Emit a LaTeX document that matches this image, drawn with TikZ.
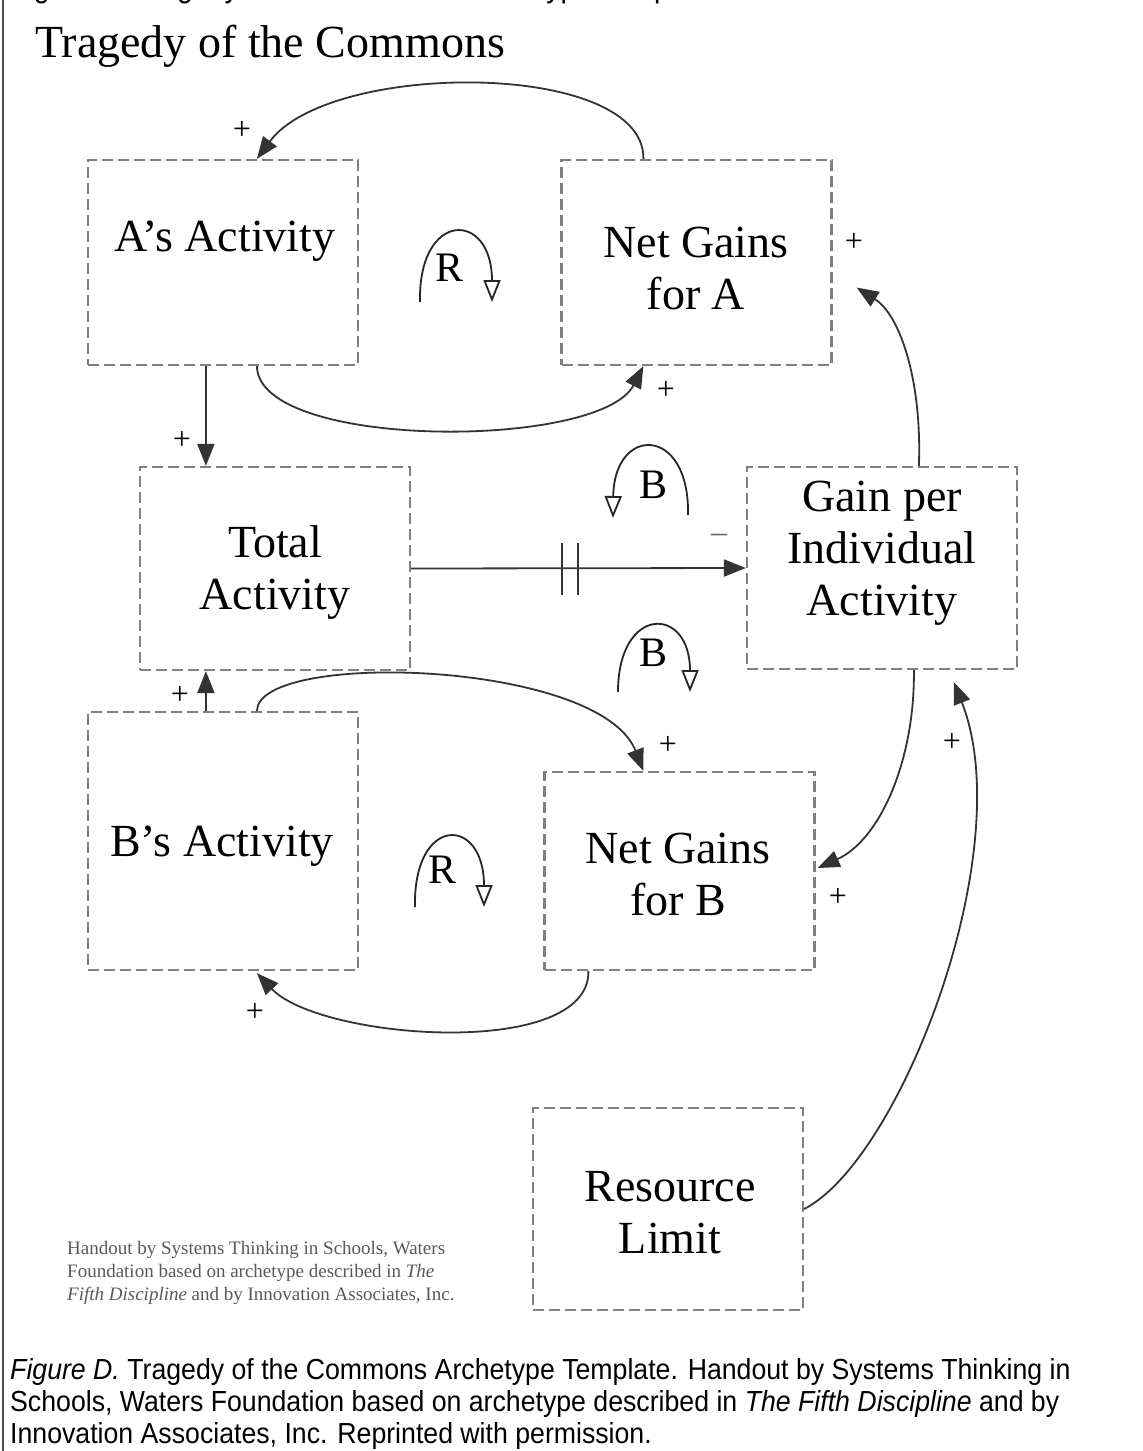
\documentclass[tikz,border=0pt]{standalone}
\usepackage{fontspec}
\setmainfont{Liberation Serif}
\newfontfamily\capfont[FakeStretch=0.92]{Liberation Sans}
\usetikzlibrary{arrows.meta,calc}

\begin{document}
\begin{tikzpicture}[x=1pt,y=-1pt,
  box/.style={draw=black!50, line width=2.2pt, dash pattern=on 11pt off 5pt,
    minimum width=270pt, inner sep=0pt},
  lbl/.style={font=\fontsize{46}{52}\selectfont, align=center, inner sep=0pt},
  link/.style={draw=black!80, line width=1.8pt, -{Triangle[length=22pt,width=17pt]}},
  pol/.style={font=\fontsize{32}{32}\selectfont, inner sep=0pt},
  loopline/.style={draw=black!85, line width=1.8pt,
    -{Triangle[open,length=22pt,width=17pt,fill=white]}},
  looptag/.style={font=\fontsize{42}{42}\selectfont, inner sep=0pt},
]
\useasboundingbox (0,0) rectangle (1143,1451);
\fill[white] (0,0) rectangle (1143,1451);

% page edge and the cut-off heading line above
\draw[line width=1.5pt, black!70] (3,0) -- (3,1451);
\begin{scope}
  \clip (0,0) rectangle (1143,12);
  \node[anchor=base west, inner sep=0pt, font=\capfont\fontsize{31}{31}\selectfont]
    (headcut) at (10,-2.5) {Figure D. Tragedy of the Commons Archetype Template};
\end{scope}

% title
\node[anchor=base west, inner sep=0pt, font=\fontsize{46}{46}\selectfont]
  (title) at (35,57) {Tragedy of the Commons};

% variable boxes
\node[box, minimum height=205pt] (aBox)   at (223,262.5) {};
\node[box, minimum height=205pt] (ngaBox) at (696.5,262.5) {};
\node[box, minimum height=203pt] (totBox) at (275,568.5) {};
\node[box, minimum height=202pt] (gainBox) at (882,568) {};
\node[box, minimum height=258pt] (bBox)   at (223,841) {};
\node[box, minimum height=198pt] (ngbBox) at (679.5,871) {};
\node[box, minimum height=202pt] (resBox) at (668,1209) {};

% box labels
\node[lbl] (aTxt)    at (225,241) {A’s Activity};
\node[lbl] (ngaTxt)  at (696,268) {Net Gains\\for A};
\node[lbl] (totTxt)  at (275,572) {Total\\Activity};
\node[lbl] (gainTxt) at (882,553) {Gain per\\Individual\\Activity};
\node[lbl] (bTxt)    at (222,846) {B’s Activity};
\node[lbl] (ngbTxt)  at (678,874) {Net Gains\\for B};
\node[lbl] (resTxt)  at (670,1213) {Resource\\Limit};

% connector end points on the box edges
\coordinate (aTopIn)   at ($(aBox.north west)+(170,0)$);
\coordinate (aBotOut)  at ($(aBox.south west)+(170,0)$);
\coordinate (aBotDown) at ($(aBox.south west)+(119,0)$);
\coordinate (ngaTop)   at ($(ngaBox.north west)+(83,0)$);
\coordinate (ngaBot)   at ($(ngaBox.south west)+(83,0)$);
\coordinate (ngaRight) at ($(ngaBox.east)+(24,25)$);
\coordinate (totTop)   at ($(totBox.north west)+(67,0)$);
\coordinate (totBot)   at ($(totBox.south west)+(67,0)$);
\coordinate (gainTop)  at ($(gainBox.north west)+(173,0)$);
\coordinate (gainBot)  at ($(gainBox.south west)+(168,0)$);
\coordinate (gainIn)   at ($(gainBox.south west)+(208,12)$);
\coordinate (bTopUp)   at ($(bBox.north west)+(119,0)$);
\coordinate (bTopOut)  at ($(bBox.north west)+(170,0)$);
\coordinate (bBotIn)   at ($(bBox.south west)+(170,2)$);
\coordinate (ngbTop)   at ($(ngbBox.north west)+(100,0)$);
\coordinate (ngbBot)   at ($(ngbBox.south west)+(45,0)$);
\coordinate (ngbRight) at ($(ngbBox.east)+(2,-3)$);

% causal links
\draw[link] (ngaTop) .. controls (645,60) and (330,60) .. (aTopIn);
\draw[link] (aBotOut) .. controls (258,450) and (600,450) .. (ngaBot);
\draw[link] (aBotDown) -- (totTop);
\draw[link] (totBox.east) -- (gainBox.west);
\draw[link] (gainTop) .. controls (922,380) and (900,315) .. (ngaRight);
\draw[link] (gainBot) .. controls (915,760) and (880,840) .. (ngbRight);
\draw[link] (resBox.east) .. controls (900,1160) and (1020,850) .. (gainIn);
\draw[link] (bTopUp) -- (totBot);
\draw[link] (bTopOut) .. controls (258,650) and (600,660) .. (ngbTop);
\draw[link] (ngbBot) .. controls (590,1060) and (320,1040) .. (bBotIn);

% delay mark
\draw[draw=black!80, line width=1.8pt] (562,543) -- (562,595) (578,543) -- (578,595);

% link polarities
\node[pol] (p1)  at (242,130) {+};
\node[pol] (p2)  at (666,390) {+};
\node[pol] (p3)  at (182,440) {+};
\node[pol] (p4)  at (854,242) {+};
\node[pol, text=black!60] (p5) at (719,538) {–};
\node[pol] (p6)  at (180,695) {+};
\node[pol] (p7)  at (668,745) {+};
\node[pol] (p8)  at (838,897) {+};
\node[pol] (p9)  at (952,742) {+};
\node[pol] (p10) at (255,1012) {+};

% loop markers
\draw[loopline] (420,302) .. controls (418,210) and (492,210) .. (492,302);
\node[looptag] (r1) at (450,268) {R};
\draw[loopline] (688,515) .. controls (690,425) and (614,425) .. (613,518);
\node[looptag] (b1) at (653,485) {B};
\draw[loopline] (618,692) .. controls (618,605) and (690,605) .. (690,692);
\node[looptag] (b2) at (653,653) {B};
\draw[loopline] (415,907) .. controls (413,815) and (484,815) .. (484,907);
\node[looptag] (r2) at (443,870) {R};

% credit note (base anchor sits on the last line)
\node[anchor=base west, inner sep=0pt, align=left, text=black!65,
  font=\fontsize{19}{23}\selectfont] (note) at (67,1300)
  {Handout by Systems Thinking in Schools, Waters\\
   Foundation based on archetype described in \textit{The}\\
   \textit{Fifth Discipline} and by Innovation Associates, Inc.};

% figure caption (base anchor sits on the last line)
\node[anchor=base west, inner sep=0pt, align=left,
  font=\capfont\fontsize{29}{32}\selectfont] (caption) at (10,1443)
  {\textit{Figure D.} Tragedy of the Commons Archetype Template. Handout by Systems Thinking in\\
   Schools, Waters Foundation based on archetype described in \textit{The Fifth Discipline} and by\\
   Innovation Associates, Inc. Reprinted with permission.};
\end{tikzpicture}
\end{document}
